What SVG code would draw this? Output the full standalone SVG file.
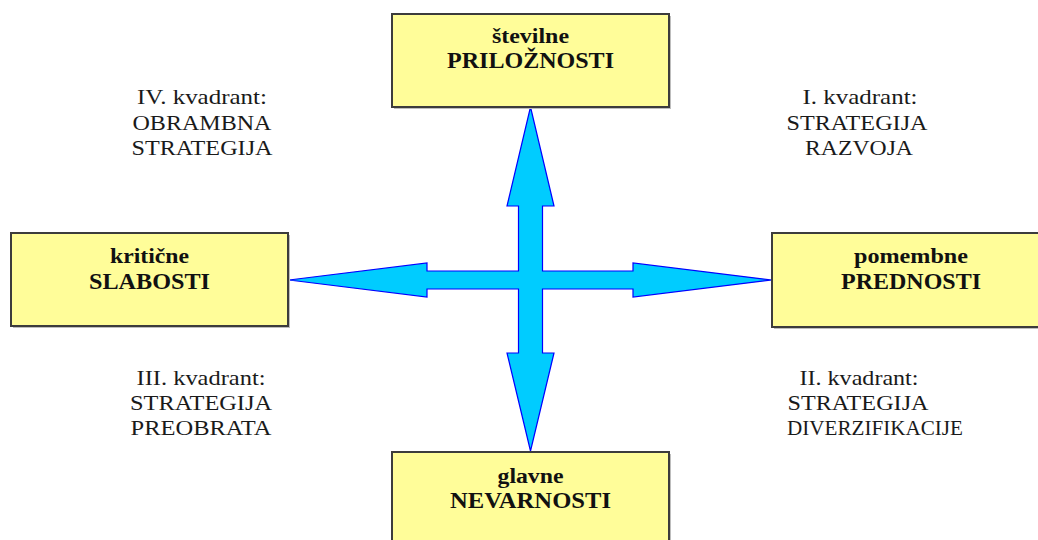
<svg xmlns="http://www.w3.org/2000/svg" width="1038" height="540" viewBox="0 0 1038 540">
  <style>
    .box { fill: #FFFD99; stroke: #3C3C3C; stroke-width: 2; }
    .shadow { fill: #BDBDBD; }
    .small { font-family: "Liberation Serif", "Times New Roman", serif; font-weight: bold; font-size: 20px; fill: #111; text-anchor: middle; }
    .big { font-family: "Liberation Serif", "Times New Roman", serif; font-weight: bold; font-size: 22.5px; fill: #111; text-anchor: middle; }
    .quad { font-family: "Liberation Serif", "Times New Roman", serif; font-size: 22px; fill: #1A1A1A; text-anchor: middle; }
    .cross { fill: #00CCFF; stroke: #0000FF; stroke-width: 1.2; stroke-linejoin: miter; }
  </style>

  <rect width="1038" height="540" fill="#FFFFFF"/>

  <!-- four-way arrow -->
  <g id="connectors">
    <polygon class="cross" points="530.5,107 554,206 542.5,206 542.5,271 633,271 633,263 772,280 633,297 633,289 542.5,289 542.5,353 554,353 530.5,451 507,353 518.5,353 518.5,289 427,289 427,297 289,280 427,263 427,271 518.5,271 518.5,206 507,206"/>
  </g>

  <!-- opportunities -->
  <g id="node-top">
    <rect class="shadow" x="394" y="16" width="277" height="93"/>
    <rect class="box" x="392" y="14" width="277" height="93"/>
    <text class="small" x="530.5" y="43" textLength="77" lengthAdjust="spacingAndGlyphs">številne</text>
    <text class="big" x="530.5" y="68" textLength="167" lengthAdjust="spacingAndGlyphs">PRILOŽNOSTI</text>
  </g>

  <!-- weaknesses -->
  <g id="node-left">
    <rect class="shadow" x="13" y="235" width="277" height="93"/>
    <rect class="box" x="11" y="233" width="277" height="93"/>
    <text class="small" x="149.5" y="263" textLength="79" lengthAdjust="spacingAndGlyphs">kritične</text>
    <text class="big" x="149.5" y="288.5" textLength="121" lengthAdjust="spacingAndGlyphs">SLABOSTI</text>
  </g>

  <!-- strengths -->
  <g id="node-right">
    <rect class="shadow" x="774" y="235" width="277" height="94"/>
    <rect class="box" x="772" y="233" width="277" height="94"/>
    <text class="small" x="911" y="263" textLength="114" lengthAdjust="spacingAndGlyphs">pomembne</text>
    <text class="big" x="911" y="288.5" textLength="140" lengthAdjust="spacingAndGlyphs">PREDNOSTI</text>
  </g>

  <!-- threats -->
  <g id="node-bottom">
    <rect class="shadow" x="394" y="454" width="277" height="93"/>
    <rect class="box" x="392" y="452" width="277" height="93"/>
    <text class="small" x="530.5" y="483" textLength="66" lengthAdjust="spacingAndGlyphs">glavne</text>
    <text class="big" x="530.5" y="507.5" textLength="161" lengthAdjust="spacingAndGlyphs">NEVARNOSTI</text>
  </g>

  <!-- quadrant labels -->
  <g id="quadrant-4">
    <text class="quad" x="202" y="103.5" textLength="130" lengthAdjust="spacingAndGlyphs">IV. kvadrant:</text>
    <text class="quad" x="202" y="129.5" textLength="139" lengthAdjust="spacingAndGlyphs">OBRAMBNA</text>
    <text class="quad" x="202" y="155" textLength="141" lengthAdjust="spacingAndGlyphs">STRATEGIJA</text>
  </g>
  <g id="quadrant-1">
    <text class="quad" x="860" y="104" textLength="115" lengthAdjust="spacingAndGlyphs">I. kvadrant:</text>
    <text class="quad" x="857" y="129.5" textLength="141" lengthAdjust="spacingAndGlyphs">STRATEGIJA</text>
    <text class="quad" x="859" y="155" textLength="108" lengthAdjust="spacingAndGlyphs">RAZVOJA</text>
  </g>
  <g id="quadrant-3">
    <text class="quad" x="201" y="385" textLength="129" lengthAdjust="spacingAndGlyphs">III. kvadrant:</text>
    <text class="quad" x="201" y="410" textLength="142" lengthAdjust="spacingAndGlyphs">STRATEGIJA</text>
    <text class="quad" x="201" y="435" textLength="141" lengthAdjust="spacingAndGlyphs">PREOBRATA</text>
  </g>
  <g id="quadrant-2">
    <text class="quad" x="859" y="385" textLength="119" lengthAdjust="spacingAndGlyphs">II. kvadrant:</text>
    <text class="quad" x="858" y="410" textLength="141" lengthAdjust="spacingAndGlyphs">STRATEGIJA</text>
    <text class="quad" x="875" y="435" textLength="176" lengthAdjust="spacingAndGlyphs">DIVERZIFIKACIJE</text>
  </g>
</svg>
